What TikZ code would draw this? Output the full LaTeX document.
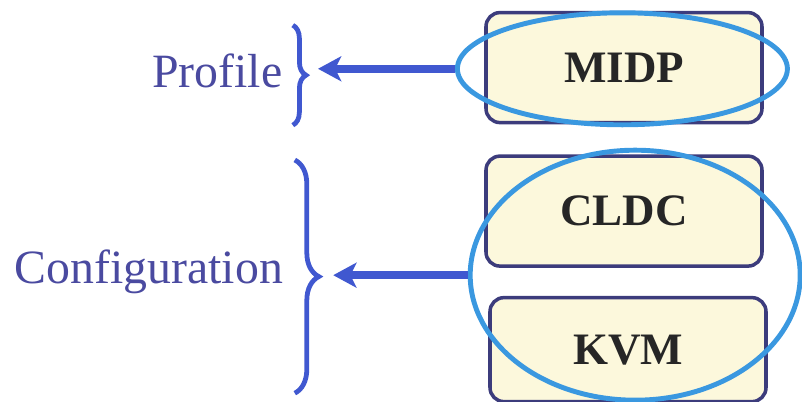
\documentclass[tikz,border=0pt]{standalone}
\usepackage{fontspec}
\setmainfont{Liberation Serif}
\usetikzlibrary{positioning,shapes.geometric,decorations.pathreplacing,arrows.meta}
\definecolor{boxline}{HTML}{3C3C7C}
\definecolor{boxfill}{HTML}{FCF8DC}
\definecolor{ringblue}{HTML}{3A98E0}
\definecolor{arrowblue}{HTML}{4058D0}
\definecolor{sideblue}{HTML}{4A4AA0}
\begin{document}
\begin{tikzpicture}[
		layer/.style={draw=boxline, line width=2.5pt, fill=boxfill, rounded corners=0.35cm,
			minimum width=6.9cm, minimum height=2.75cm, text=black!85,
			font=\fontsize{32}{36}\selectfont\bfseries},
		ring/.style={draw=ringblue, line width=3.5pt, ellipse, inner sep=0pt},
		side/.style={text=sideblue, anchor=base east, font=\fontsize{34}{38}\selectfont},
		curly/.style={draw=arrowblue, line width=3.4pt, decorate, decoration={brace, amplitude=#1}},
		pointer/.style={draw=arrowblue, line width=5.5pt, -{Stealth[length=0.58cm, width=0.62cm, inset=0.15cm]}},
		node distance=0.75cm]
			\useasboundingbox (0,0) rectangle (20.05,10.05);
			% the stack
			\node [layer] (midp) at (15.6,8.36) {MIDP};
			\node [layer, below=of midp] (cldc) {CLDC};
			\node [layer, below=0.7cm of cldc, xshift=0.1cm, minimum height=2.6cm] (kvm) {KVM};
			% rings round the profile and the configuration
			\node [ring, minimum width=8.25cm, minimum height=2.8cm] (pring) at (15.56,8.33) {};
			\node [ring, minimum width=8.25cm, minimum height=6.25cm] (cring) at (15.88,3.17) {};
			% names on the left
			\node [side] (profile) at (7.18,7.85) {Profile};
			\node [side] (config) at (7.2,2.97) {Configuration};
			\draw [curly=0.33cm] (7.32,9.42) -- (7.32,6.92);
			\draw [curly=0.6cm] (7.37,6.05) -- (7.37,0.22);
			\coordinate (ptip) at (7.95,8.33);
			\coordinate (ctip) at (8.33,3.17);
			\draw [pointer] (pring.west) -- (ptip);
			\draw [pointer] (cring.west) -- (ctip);
		\end{tikzpicture}
\end{document}
